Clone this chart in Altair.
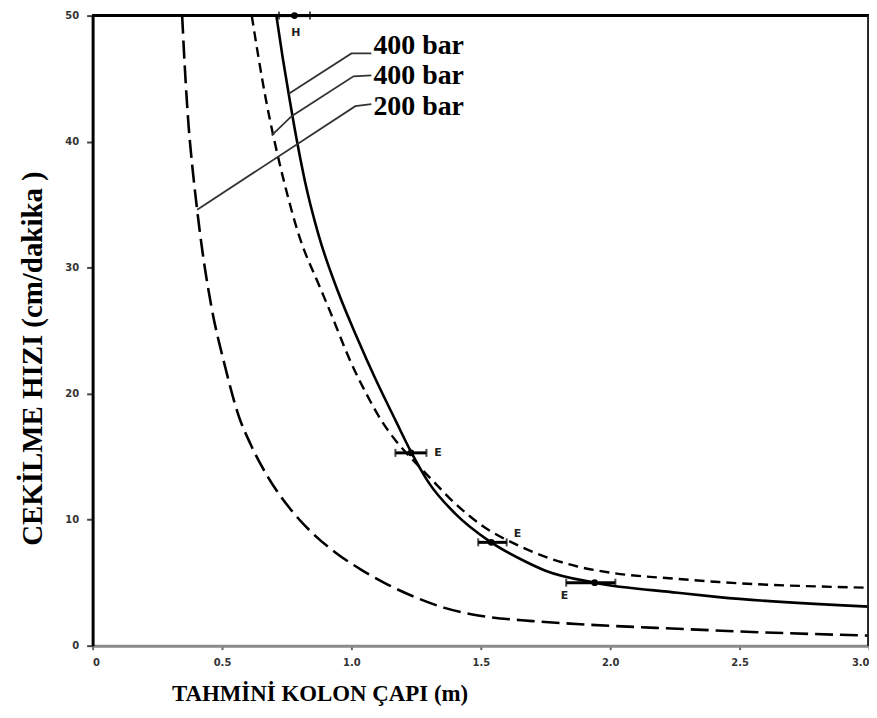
import altair as alt
import pandas as pd

# ---- curve data ----
curve_200_x = [0.346, 0.356, 0.37, 0.388, 0.405, 0.425, 0.46, 0.51, 0.565, 0.61, 0.68, 0.758,
               0.846, 0.938, 1.04, 1.14, 1.246, 1.36, 1.49, 1.7, 1.87, 2.26, 2.6, 3.0]
curve_200_y = [50, 46.0, 41.5, 37.5, 34.4, 31.2, 26.8, 22.3, 18.2, 16.0, 13.3, 11.0,
               9.0, 7.4, 6.0, 4.85, 3.85, 3.0, 2.4, 1.95, 1.72, 1.34, 1.05, 0.8]

curve_400d_x = [0.615, 0.64, 0.67, 0.70, 0.74, 0.80, 0.873, 0.91, 1.0, 1.06, 1.115, 1.17,
                1.23, 1.3, 1.4, 1.5, 1.65, 1.87, 2.0, 2.26, 2.42, 3.0]
curve_400d_y = [50, 46.8, 43.3, 40.3, 36.8, 32.4, 28.7, 26.9, 22.4, 19.9, 17.9, 16.3,
                14.9, 13.4, 11.3, 9.6, 7.9, 6.3, 5.8, 5.3, 5.05, 4.6]

curve_400s_x = [0.71, 0.735, 0.76, 0.79, 0.82, 0.873, 0.95, 1.027, 1.09, 1.17, 1.23, 1.3,
                1.4, 1.54, 1.67, 1.75, 1.94, 2.26, 2.42, 3.0]
curve_400s_y = [50, 46.6, 43.5, 40.0, 36.9, 32.6, 28.0, 24.2, 21.3, 17.9, 15.4, 12.9,
                10.5, 8.2, 6.7, 5.95, 5.0, 4.2, 3.85, 3.1]

# error-bar style markers
marker_mid = [1.23, 1.54, 1.94, 0.78]
marker_lo = [1.17, 1.49, 1.83, 0.72]
marker_hi = [1.29, 1.60, 2.02, 0.84]
marker_y = [15.3, 8.2, 5.0, 50]

# small letters in the plot
letter_text = ["E", "E", "E", "H"]
letter_x = [1.335, 1.642, 1.823, 0.785]
letter_y = [15.3, 8.85, 3.95, 48.6]

# legend labels and leader lines
label_text = ["400 bar", "400 bar", "200 bar"]
label_x = [1.085, 1.085, 1.085]
label_y = [47.55, 45.18, 42.73]

leader_group = [1, 1, 1, 2, 2, 2, 2, 3, 3, 3]
leader_order = [0, 1, 2, 0, 1, 2, 3, 0, 1, 2]
leader_x = [1.077, 1.0, 0.758, 1.077, 1.008, 0.769, 0.692, 1.077, 1.015, 0.404]
leader_y = [47.0, 47.0, 43.8, 45.26, 45.18, 42.02, 40.5, 42.97, 42.81, 34.6]

x_ticks = [0, 0.5, 1.0, 1.5, 2.0, 2.5, 3.0]
y_ticks = [0, 10, 20, 30, 40, 50]

# ---- tables ----
def curve_df(xs, ys):
    return pd.DataFrame({"x": xs, "y": ys})

df200 = curve_df(curve_200_x, curve_200_y)
df400d = curve_df(curve_400d_x, curve_400d_y)
df400s = curve_df(curve_400s_x, curve_400s_y)
dfm = pd.DataFrame({"mid": marker_mid, "lo": marker_lo, "hi": marker_hi, "y": marker_y})
dfl = pd.DataFrame({"t": letter_text, "x": letter_x, "y": letter_y})
dflab = pd.DataFrame({"t": label_text, "x": label_x, "y": label_y})
dflead = pd.DataFrame({"g": leader_group, "o": leader_order, "x": leader_x, "y": leader_y})

xscale = alt.Scale(domain=[0, 3], nice=False, zero=False)
yscale = alt.Scale(domain=[0, 50], nice=False)

xaxis = alt.Axis(values=x_ticks, grid=False,
                 labelExpr="datum.value == 0 ? '0' : format(datum.value, '.1f')",
                 domainColor="#8a8a8a", domainWidth=3, tickColor="#666", tickSize=4, tickWidth=2,
                 labelFont="DejaVu Sans", labelFontSize=10, labelFontWeight="bold",
                 labelColor="#333", labelPadding=8,
                 title="TAHMİNİ KOLON ÇAPI (m)", titleFont="Liberation Serif",
                 titleFontSize=23, titleFontWeight="bold", titleColor="black",
                 titleX=228, titleY=48, titleAlign="center", titleBaseline="middle")
yaxis = alt.Axis(values=y_ticks, grid=False,
                 domainColor="black", domainWidth=3, tickColor="#444", tickSize=6, tickWidth=2,
                 labelFont="DejaVu Sans", labelFontSize=10, labelFontWeight="bold",
                 labelColor="#333", labelPadding=8,
                 title="CEKİLME HIZI (cm/dakika )", titleFont="Liberation Serif",
                 titleFontSize=29, titleFontWeight="bold", titleColor="black",
                 titleX=-60, titleY=344, titleAngle=-90, titleAlign="center", titleBaseline="middle")

base_x = alt.X("x:Q", scale=xscale, axis=xaxis)
base_y = alt.Y("y:Q", scale=yscale, axis=yaxis)

line200 = alt.Chart(df200).mark_line(color="black", strokeWidth=2.6, strokeDash=[18, 7],
                                     interpolate="monotone").encode(x=base_x, y=base_y)
line400d = alt.Chart(df400d).mark_line(color="black", strokeWidth=2.4, strokeDash=[10, 6],
                                       interpolate="monotone").encode(x="x:Q", y="y:Q")
line400s = alt.Chart(df400s).mark_line(color="black", strokeWidth=2.6,
                                       interpolate="monotone").encode(x="x:Q", y="y:Q")

frame_top = alt.Chart(dfm).mark_rule(color="black", strokeWidth=3).encode(y=alt.datum(50))
frame_right = alt.Chart(dfm).mark_rule(color="#222", strokeWidth=3).encode(x=alt.datum(3))

bars = alt.Chart(dfm).mark_rule(color="black", strokeWidth=3).encode(x="lo:Q", x2="hi:Q", y="y:Q")
dots = alt.Chart(dfm).mark_point(color="black", filled=True, opacity=1, size=45, shape="circle").encode(
    x="mid:Q", y="y:Q")
cap_lo = alt.Chart(dfm).mark_tick(color="black", orient="vertical", size=8, thickness=2).encode(
    x="lo:Q", y="y:Q")
cap_hi = alt.Chart(dfm).mark_tick(color="black", orient="vertical", size=8, thickness=2).encode(
    x="hi:Q", y="y:Q")

letters = alt.Chart(dfl).mark_text(font="DejaVu Sans", fontSize=11, fontWeight="bold",
                                   color="#222").encode(x="x:Q", y="y:Q", text="t:N")

leaders = alt.Chart(dflead).mark_line(color="#333", strokeWidth=1.8).encode(
    x="x:Q", y="y:Q", detail="g:N", order="o:Q")

labels = alt.Chart(dflab).mark_text(font="Liberation Serif", fontSize=28, fontWeight="bold",
                                    color="black", align="left", baseline="middle").encode(
    x="x:Q", y="y:Q", text="t:N")

chart = alt.layer(line200, line400d, line400s, leaders, frame_top, frame_right,
                  bars, cap_lo, cap_hi, dots, letters, labels).properties(
    width=780, height=633,
    autosize=alt.AutoSizeParams(type="none"),
    padding={"left": 85, "top": 6, "right": 0, "bottom": 64},
    background="white",
).configure_view(stroke=None)

chart.save("out.html", embed_options={"renderer": "svg", "actions": False})
